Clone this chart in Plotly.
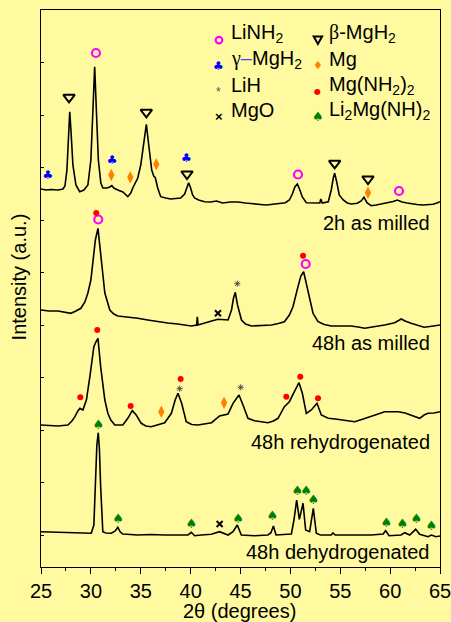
import plotly.graph_objects as go

# ---------------- data: 2theta (deg) and stacked intensity (a.u.) ----------------
tt_2h = [25.0, 25.5, 26.0, 26.7, 27.2, 27.4, 27.6, 27.75, 27.88, 28.0, 28.2, 28.5, 28.88, 29.3, 29.7,
         30.0, 30.2, 30.38, 30.55, 30.75, 31.0, 31.2, 31.6, 31.9, 32.1, 32.3, 32.7, 33.2, 33.7, 34.0,
         34.2, 34.7, 35.0, 35.3, 35.56, 35.8, 36.1, 36.3, 36.46, 36.7, 37.0, 37.5, 38.0, 38.5, 39.0,
         39.4, 39.6, 39.8, 40.0, 40.2, 40.4, 40.8, 41.4, 42.0, 42.6, 43.2, 44.0, 44.75, 45.5, 46.2,
         47.0, 47.6, 48.3, 49.0, 49.5, 49.9, 50.2, 50.45, 50.7, 50.95, 51.2, 51.6, 52.0, 52.5, 52.95,
         53.05, 53.2, 53.8, 54.1, 54.3, 54.44, 54.65, 54.9, 55.3, 55.7, 56.1, 56.7, 57.1, 57.38, 57.7,
         58.1, 58.6, 59.2, 59.8, 60.3, 60.72, 61.2, 61.7, 62.1, 62.7, 63.3, 63.8, 64.3, 64.7, 65.0]
int_2h = [378, 377, 377.5, 377, 378, 381, 397, 432, 455.3, 437, 402, 382, 375.3, 377, 382,
          407, 457, 500.3, 457, 407, 384, 379, 379, 380, 381.5, 379, 377, 375, 370.3, 374,
          379, 389, 402, 427, 442.7, 422, 397, 391, 389.3, 379, 370.3, 369, 368, 368.5, 369,
          373, 380, 384.3, 379, 372, 369, 367, 365.3, 365, 366, 364, 365, 365, 364, 363,
          362.5, 362, 363, 364, 364.3, 367, 373, 380, 383, 377, 370, 364.3, 364, 364, 364,
          368, 364, 365.3, 377, 389, 393.7, 385, 372, 367, 364, 363, 363.7, 366, 369.7, 364,
          361.3, 362, 363, 364, 365.5, 367, 365, 364, 363.7, 362.5, 362, 362, 362.7, 364, 365.3]

tt_48m = [25.0, 25.8, 26.7, 27.3, 28.0, 28.5, 29.0, 29.4, 29.7, 30.0, 30.2, 30.45, 30.71, 30.88, 31.05,
          31.4, 31.9, 32.3, 32.7, 33.7, 34.7, 35.7, 36.7, 37.7, 38.7, 39.4, 40.07, 40.6, 40.67, 40.74,
          41.4, 42.1, 42.75, 43.3, 43.75, 44.1, 44.3, 44.48, 44.7, 45.1, 45.5, 46.1, 47.0, 48.1, 48.8,
          49.4, 49.9, 50.26, 50.76, 51.05, 51.33, 51.55, 51.77, 52.27, 52.77, 53.4, 54.1, 55.0, 56.1, 56.8,
          57.45, 58.2, 59.0, 59.45, 59.9, 60.45, 61.12, 61.5, 62.1, 62.8, 63.4, 64.0, 64.7, 65.0]
int_48m = [257, 256, 256, 255, 253.7, 256, 258.7, 265, 274, 287, 304, 327, 338.7, 322, 304,
           274, 257, 253, 251, 250, 248.7, 247, 245.3, 244, 243, 242, 241, 242, 250.3, 242,
           244.3, 246, 247.7, 247, 247, 257, 269, 274.7, 262, 247, 243, 241, 241.5, 242, 243.5,
           245.3, 252, 260.3, 280.3, 291, 295.3, 285, 273.7, 253.7, 245.3, 242.5, 241, 241, 241, 240,
           238.7, 240, 241, 242, 243, 244.3, 248, 246, 243.7, 241.5, 239.7, 240.5, 242, 242]

tt_48r = [25.0, 25.8, 26.7, 27.2, 27.7, 28.1, 28.4, 28.7, 28.9, 29.2, 29.55, 29.9, 30.3, 30.5, 30.71,
          30.98, 31.4, 31.7, 32.0, 32.4, 33.2, 33.5, 33.7, 34.15, 34.55, 35.05, 35.5, 36.06, 36.7, 37.4,
          38.07, 38.45, 38.73, 39.1, 39.56, 40.1, 40.74, 41.4, 42.1, 42.9, 43.75, 44.25, 44.85, 45.25, 45.75,
          46.4, 47.1, 47.75, 48.3, 48.76, 49.4, 49.9, 50.4, 50.86, 51.2, 51.6, 52.1, 52.67, 53.1, 53.8,
          54.5, 55.1, 55.8, 56.45, 57.3, 58.1, 58.8, 59.45, 60.1, 60.8, 61.5, 62.1, 62.96, 63.4, 63.8,
          64.4, 65.0]
int_48r = [142, 141.5, 141, 141.5, 142, 146, 150.3, 156, 158.7, 157, 167, 190.3, 220.3, 225, 228.7,
           200.3, 167, 153.7, 147, 142, 142, 146, 148.7, 156.3, 152, 143.7, 141, 140.3, 142, 144.3,
           153.7, 167, 173.7, 163.7, 145.3, 142.5, 142, 143, 144.3, 151, 153, 163.7, 172, 162, 148.7,
           146.3, 145, 144.3, 146, 148.7, 160.3, 165.3, 175.3, 184.3, 173.7, 153.7, 157, 163.7, 152, 148.7,
           148, 147, 146, 145.3, 148, 150.3, 153, 155.3, 155, 155.3, 154, 152, 148.7, 152, 153.7,
           154, 155.3]

tt_48d = [25.0, 26.0, 27.0, 28.04, 29.0, 30.04, 30.3, 30.44, 30.6, 30.74, 30.86, 30.98, 31.2, 31.5, 32.05,
          32.45, 32.7, 32.95, 33.2, 34.7, 36.0, 37.4, 38.7, 39.73, 40.07, 40.4, 41.07, 42.07, 42.9, 43.75,
          44.25, 44.68, 45.08, 46.4, 47.75, 48.05, 48.3, 48.56, 50.1, 50.36, 50.63, 50.9, 51.27, 51.53, 51.93,
          52.3, 52.6, 53.0, 54.1, 54.27, 54.5, 56.0, 58.1, 59.3, 59.55, 59.9, 61.1, 61.46, 61.96, 62.56,
          62.96, 63.8, 64.14, 64.6, 65.0]
int_48d = [35.3, 35, 34.7, 34.3, 34, 33.7, 42, 80.3, 122, 134.3, 117, 80.3, 35.3, 34, 33.7,
           36, 39.7, 35, 33, 32, 32.5, 32, 32, 32, 34.7, 31.3, 32, 32.7, 35.3, 32,
           35.3, 42, 32, 31.3, 32, 34.3, 41, 32, 33, 47, 67, 47.7, 63.7, 37, 35.3,
           58.7, 33.7, 32, 32, 34, 32, 32, 32, 33, 36.3, 31.3, 32, 34.3, 32, 37.7,
           32.7, 30.3, 32, 30.3, 31]

pattern_labels = ["2h as milled", "48h as milled", "48h rehydrogenated", "48h dehydrogenated"]
label_y = [344, 224, 125, 15]

# phase identification markers (2theta, height)
linh2_tt = [30.51, 50.76, 60.89, 30.74, 51.54]
linh2_y = [514, 392.5, 376, 347.5, 303]
bmgh2_tt = [27.81, 35.56, 39.64, 54.44, 57.78]
bmgh2_y = [469.7, 454.7, 393, 403.7, 388]
gmgh2_tt = [25.70, 32.12, 39.57]
gmgh2_y = [391, 406, 407.7]
mg_tt = [32.05, 33.95, 36.56, 57.78, 37.06, 43.35]
mg_y = [392, 389.7, 402.7, 374.3, 155.3, 164.3]
lih_tt = [44.68, 38.90, 45.02]
lih_y = [283.3, 178.3, 179.7]
mgnh2_tt = [30.54, 51.27, 30.64, 28.94, 33.99, 39.0, 49.59, 50.99, 52.77]
mgnh2_y = [354, 311.3, 237, 169.7, 161, 188, 170.3, 190.3, 168.7]
mgo_tt = [42.74, 42.91]
mgo_y = [253.7, 43]
li2_tt = [30.74, 32.72, 40.07, 44.75, 48.19, 50.69, 51.57, 52.30, 59.62, 61.22, 62.63, 64.13]
li2_y = [141, 47, 42.3, 47.3, 50.3, 75.7, 75.7, 66, 43, 42, 47, 40.3]

BG = "#FFFAA0"
FONT = "Arial, Liberation Sans, sans-serif"
PW, PH = 399.0, 557.0  # plot area size in px (for legend key geometry)

fig = go.Figure()
for tt, it in [(tt_2h, int_2h), (tt_48m, int_48m), (tt_48r, int_48r), (tt_48d, int_48d)]:
    fig.add_trace(go.Scatter(x=tt, y=it, mode="lines", line=dict(color="black", width=1.6),
                             showlegend=False, hoverinfo="skip"))

fig.add_trace(go.Scatter(x=linh2_tt, y=linh2_y, mode="markers",
                         marker=dict(symbol="circle-open", size=8, color="#FF00FF", line=dict(width=2.2, color="#FF00FF"))))
fig.add_trace(go.Scatter(x=bmgh2_tt, y=bmgh2_y, mode="markers",
                         marker=dict(symbol="triangle-down-open", size=10, color="black", line=dict(width=2, color="black"))))
fig.add_trace(go.Scatter(x=gmgh2_tt, y=gmgh2_y, mode="text", text=["♣"] * len(gmgh2_tt),
                         textfont=dict(size=12, color="#0000FF", family="DejaVu Sans")))
fig.add_trace(go.Scatter(x=mg_tt, y=mg_y, mode="markers",
                         marker=dict(symbol="diamond-tall", size=9, color="#FF8000")))
fig.add_trace(go.Scatter(x=lih_tt, y=lih_y, mode="markers",
                         marker=dict(symbol="asterisk-open", size=5, color="#505050", line=dict(width=1, color="#505050"))))
fig.add_trace(go.Scatter(x=mgnh2_tt, y=mgnh2_y, mode="markers",
                         marker=dict(symbol="circle", size=6, color="#FF0000")))
fig.add_trace(go.Scatter(x=mgo_tt, y=mgo_y, mode="markers",
                         marker=dict(symbol="x-thin-open", size=6, color="black", line=dict(width=2, color="black"))))
fig.add_trace(go.Scatter(x=li2_tt, y=li2_y, mode="text", text=["♠"] * len(li2_tt),
                         textfont=dict(size=13, color="#008000", family="DejaVu Sans")))

ann = []
for lab, yv in zip(pattern_labels, label_y):
    ann.append(dict(x=0.981, y=yv, xref="paper", yref="y", text=lab, showarrow=False,
                    xanchor="right", yanchor="middle", font=dict(size=20, color="black", family=FONT)))

# legend built from text glyphs / shapes
leg_rows = [0.946, 0.8995, 0.853, 0.808]
col1 = [(None, "", 0, FONT, "LiNH<sub>2</sub>"),
        ("♣", "#0000FF", 12, "DejaVu Sans", "<span style='font-family:Liberation Serif'>γ</span><span style='color:#4040ff'>–</span>MgH<sub>2</sub>"),
        ("*", "#505050", 12, FONT, "LiH"),
        ("<b>×</b>", "black", 13, FONT, "MgO")]
col2 = [(None, "", 0, FONT, "<span style='font-family:Liberation Serif'>β</span>-MgH<sub>2</sub>"),
        ("♦", "#FF8000", 11, "DejaVu Sans", "Mg"),
        ("●", "#FF0000", 8, "DejaVu Sans", "Mg(NH<sub>2</sub>)<sub>2</sub>"),
        ("♠", "#008000", 13, "DejaVu Sans", "Li<sub>2</sub>Mg(NH)<sub>2</sub>")]
glyph_x = [0.446, 0.694]
text_x = [0.471, 0.717]
for gx, tx, entries in zip(glyph_x, text_x, [col1, col2]):
    for yv, (g, gc, gs, gf, t) in zip(leg_rows, entries):
        if g is not None:
            ann.append(dict(x=gx, y=yv, xref="paper", yref="paper", text=g, showarrow=False,
                            xanchor="center", yanchor="middle", font=dict(size=gs, color=gc, family=gf)))
        ann.append(dict(x=tx, y=yv + 0.012, xref="paper", yref="paper", text=t, showarrow=False,
                        xanchor="left", yanchor="middle", font=dict(size=20, color="black", family=FONT)))

# axis titles
ann.append(dict(x=-0.055, y=0.52, xref="paper", yref="paper", text="Intensity (a.u.)", textangle=-90,
                showarrow=False, xanchor="center", yanchor="middle", font=dict(size=20, color="black", family=FONT)))
ann.append(dict(x=0.4985, y=-0.079, xref="paper", yref="paper", text="2θ (degrees)",
                showarrow=False, xanchor="center", yanchor="middle", font=dict(size=20, color="black", family=FONT)))

# legend keys drawn as shapes (ring and open down-triangle)
r = 3.3
shapes = [
    dict(type="circle", xref="paper", yref="paper",
         x0=glyph_x[0] - r / PW, x1=glyph_x[0] + r / PW,
         y0=leg_rows[0] - r / PH, y1=leg_rows[0] + r / PH,
         line=dict(color="#FF00FF", width=2.2)),
    dict(type="path", xref="paper", yref="paper",
         path="M {a},{b} L {c},{b} L {d},{e} Z".format(
             a=glyph_x[1] - 4.2 / PW, c=glyph_x[1] + 4.2 / PW, d=glyph_x[1],
             b=leg_rows[0] + 3.5 / PH, e=leg_rows[0] - 4.0 / PH),
         line=dict(color="black", width=2)),
]

fig.update_layout(
    width=451, height=622,
    margin=dict(l=41, r=11, t=10, b=55),
    paper_bgcolor=BG, plot_bgcolor=BG,
    showlegend=False,
    annotations=ann,
    shapes=shapes,
    font=dict(family=FONT, size=20, color="black"),
)
fig.update_xaxes(range=[25, 65], tickmode="linear", tick0=25, dtick=5, ticks="outside", ticklen=6,
                 tickwidth=1, tickcolor="black", showline=True, linecolor="black", linewidth=1,
                 mirror=True, showgrid=False, zeroline=False, ticklabeloverflow="allow",
                 automargin=False,
                 minor=dict(ticks="outside", ticklen=3, dtick=2.5, tickcolor="black", showgrid=False),
                 tickfont=dict(size=20))
fig.update_yaxes(range=[0, 557], tickmode="linear", tick0=32, dtick=52.5, ticks="inside", ticklen=3,
                 tickcolor="black", showticklabels=False, showline=True, linecolor="black", linewidth=1,
                 mirror=True, showgrid=False, zeroline=False, automargin=False)

fig.write_html("out.html")
